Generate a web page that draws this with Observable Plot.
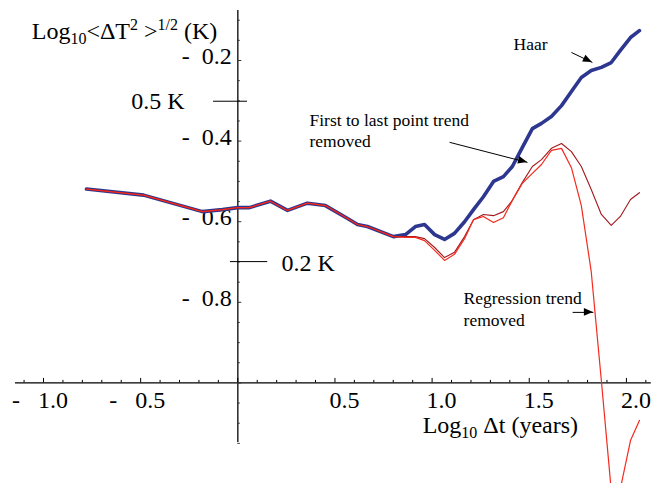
<!DOCTYPE html>
<html><head><meta charset="utf-8">
<script src="https://cdn.jsdelivr.net/npm/d3@7"></script>
<script src="https://cdn.jsdelivr.net/npm/@observablehq/plot@0.6"></script>
<style>
html,body{margin:0;padding:0;background:#fff;}
#chart svg{display:block;}
</style>
</head><body><div id="chart"></div>
<script>
// ---- data ----
const logDt = [-0.779,-0.485,-0.182,-0.079,0.000,0.060,0.168,0.256,0.358,0.451,0.565,0.616,0.667,0.801,
  0.863,0.914,0.961,1.013,1.064,1.115,1.167,1.213,1.264,1.316,1.367,1.413,1.464,1.516,1.563,1.614,1.666,
  1.717,1.768,1.819,1.871,1.922,1.969,2.021,2.067];
const common = [-0.519,-0.534,-0.575,-0.570,-0.565,-0.565,-0.549,-0.572,-0.554,-0.560,-0.592,-0.607,-0.612,-0.637];
const haar = common.concat([-0.632,-0.612,-0.607,-0.632,-0.644,-0.629,-0.600,-0.570,-0.538,-0.500,-0.488,-0.463,
  -0.416,-0.369,-0.356,-0.339,-0.312,-0.277,-0.242,-0.225,-0.217,-0.205,-0.175,-0.143,-0.126]);
const firstLast = common.concat([-0.637,-0.637,-0.642,-0.664,-0.689,-0.676,-0.637,-0.595,-0.582,-0.585,-0.575,-0.547,
  -0.503,-0.463,-0.446,-0.418,-0.406,-0.426,-0.463,-0.520,-0.582,-0.609,-0.587,-0.545,-0.528]);
const regression = common.concat([-0.639,-0.639,-0.647,-0.671,-0.696,-0.681,-0.642,-0.595,-0.587,-0.602,-0.590,-0.547,
  -0.505,-0.480,-0.458,-0.423,-0.418,-0.466,-0.560,-0.724,-0.994,-1.267,-1.262,-1.143,-1.093]);

const xTickValues = [-1.0,-0.5,0.5,1.0,1.5,2.0];
const xTickLabels = ["-   1.0","-   0.5","0.5","1.0","1.5","2.0"];
const yTickValues = [-0.2,-0.4,-0.6,-0.8];
const yTickLabels = ["-  0.2","-  0.4","-  0.6","-  0.8"];
const refHigh = {k: 0.5, label: "0.5 K", x1: -0.125, x2: 0.05, labelX: -0.274};
const refLow = {k: 0.2, label: "0.2 K", x1: -0.038, x2: 0.154, labelX: 0.225};

const notes = [
  {text:"Haar", x:1.419, y:-0.175},
  {text:"First to last point trend\nremoved", x:0.369, y:-0.415},
  {text:"Regression trend\nremoved", x:1.162, y:-0.858}
];
const arrows = [
  {x1:1.717, y1:-0.180, x2:1.825, y2:-0.205},
  {x1:1.090, y1:-0.403, x2:1.491, y2:-0.453},
  {x1:1.723, y1:-0.825, x2:1.830, y2:-0.825}
];

// ---- layout ----
const W = 661, H = 483;
const xDomain = [-1.2213, 2.1806];
const yDomain = [-1.2496, -0.0511];
const pxPerY = H / (yDomain[1] - yDomain[0]);
const pxPerX = W / (xDomain[1] - xDomain[0]);
const xAxisY = -1.0;
const xAxisExtent = [-1.144, 2.128];
const yAxisExtent = [-1.148, -0.076];

const rows = (name, ys) => logDt.map((x, i) => ({x, y: ys[i], s: name}));
const xMinor = d3.range(-11, 22).map(k => k / 10);
const yMinor = d3.range(-23, -1).map(k => k / 20);

const font = "'Liberation Serif','Times New Roman',serif";

const chart = Plot.plot({
  width: W, height: H,
  marginTop: 0, marginRight: 0, marginBottom: 0, marginLeft: 0,
  x: {domain: xDomain, axis: null},
  y: {domain: yDomain, axis: null},
  style: {fontFamily: font, background: "#fff", color: "#000"},
  marks: [
    // axes
    Plot.ruleY([xAxisY], {x1: xAxisExtent[0], x2: xAxisExtent[1], stroke: "#000", strokeWidth: 1.3}),
    Plot.ruleX([0], {y1: yAxisExtent[0], y2: yAxisExtent[1], stroke: "#333", strokeWidth: 1.6}),
    Plot.ruleX(xMinor, {x: d => d, y1: xAxisY,
      y2: d => xAxisY + (Math.abs(d * 2 - Math.round(d * 2)) < 1e-6 ? 4.5 : 2.5) / pxPerY,
      stroke: "#000", strokeWidth: 1}),
    Plot.ruleY(yMinor, {y: d => d, x1: 0,
      x2: d => (Math.abs(d * 5 - Math.round(d * 5)) < 1e-6 ? 4 : 2.5) / pxPerX,
      stroke: "#333", strokeWidth: 1}),
    Plot.text(xTickValues, {x: d => d, y: xAxisY, text: (d, i) => xTickLabels[i],
      textAnchor: "end", lineAnchor: "bottom", dx: 24.5, dy: 25, fontSize: 24, fill: "#000"}),
    Plot.text(yTickValues, {x: 0, y: d => d, text: (d, i) => yTickLabels[i],
      textAnchor: "end", lineAnchor: "bottom", dx: -6, dy: 3.5, fontSize: 24, fill: "#000"}),
    // reference levels
    Plot.ruleY([refHigh, refLow], {y: d => Math.log10(d.k), x1: "x1", x2: "x2", stroke: "#000", strokeWidth: 1}),
    Plot.text([refHigh], {x: "labelX", y: d => Math.log10(d.k), text: "label", textAnchor: "end",
      lineAnchor: "bottom", dy: 8, fontSize: 24, fill: "#000"}),
    Plot.text([refLow], {x: "labelX", y: d => Math.log10(d.k), text: "label", textAnchor: "start",
      lineAnchor: "bottom", dy: 9, fontSize: 24, fill: "#000"}),
    // series
    Plot.line(rows("Haar", haar), {x: "x", y: "y", stroke: "#2d3790", strokeWidth: 3.6, strokeLinejoin: "round"}),
    Plot.line(rows("First to last", firstLast), {x: "x", y: "y", stroke: "#a3181c", strokeWidth: 1.1, strokeLinejoin: "round"}),
    Plot.line(rows("Regression", regression), {x: "x", y: "y", stroke: "#f42a1e", strokeWidth: 1.2, strokeLinejoin: "round", clip: true}),
    // annotations
    Plot.text(notes, {x: "x", y: "y", text: "text", textAnchor: "start", lineAnchor: "bottom",
      lineHeight: 1.23, fontSize: 17.5, fill: "#000"}),
    Plot.link(arrows, {x1: "x1", y1: "y1", x2: "x2", y2: "y2", stroke: "#000", strokeWidth: 1})
  ]
});

const sx = chart.scale("x"), sy = chart.scale("y");
const svg = d3.select(chart);

// filled arrowheads
arrows.forEach(a => {
  const X1 = sx.apply(a.x1), Y1 = sy.apply(a.y1), X2 = sx.apply(a.x2), Y2 = sy.apply(a.y2);
  const ang = Math.atan2(Y2 - Y1, X2 - X1), L = 9, w = 3.8;
  const bx = X2 - L * Math.cos(ang), by = Y2 - L * Math.sin(ang);
  const px = -Math.sin(ang) * w, py = Math.cos(ang) * w;
  svg.append("path").attr("d", `M${X2},${Y2}L${bx + px},${by + py}L${bx - px},${by - py}Z`).attr("fill", "#000");
});

// axis titles with sub/superscripts
function title(x, y, parts) {
  const t = svg.append("text").attr("x", sx.apply(x)).attr("y", sy.apply(y))
    .attr("text-anchor", "start")
    .attr("font-family", font).attr("font-size", 24).attr("fill", "#000").style("white-space", "pre");
  let shift = 0;
  parts.forEach(([s, kind]) => {
    const target = kind === "sub" ? 5 : kind === "sup" ? -9 : 0;
    const ts = t.append("tspan").attr("dy", target - shift).text(s);
    if (kind) ts.attr("font-size", 16);
    shift = target;
  });
}
title(-1.058, -0.147, [["Log"], ["10", "sub"], ["<\u0394T"], ["2", "sup"], [" >"], ["1/2", "sup"], [" (K)"]]);
title(0.954, -1.125, [["Log"], ["10", "sub"], [" \u0394t (years)"]]);

document.getElementById("chart").appendChild(chart);
</script>
</body></html>
